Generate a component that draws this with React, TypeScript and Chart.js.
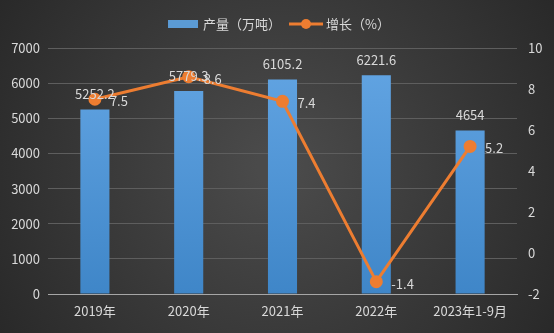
import React, { useEffect, useRef } from "react";
import { Chart, registerables } from "chart.js";

Chart.register(...registerables);

const categories = ["2019年", "2020年", "2021年", "2022年", "2023年1-9月"];
const production = [5252.2, 5779.3, 6105.2, 6221.6, 4654];
const growth = [7.5, 8.6, 7.4, -1.4, 5.2];
const productionLabel = "产量（万吨）";
const growthLabel = "增长（%）";

const FONT = "'Noto Sans CJK SC', 'Noto Sans', sans-serif";
const TEXT = "#d9d9d9";
const BLUE = "#5b9bd5";
const ORANGE = "#ed7d31";

const bgPlugin = {
  id: "bgPlugin",
  beforeDraw(chart: any) {
    const { ctx, width, height } = chart;
    ctx.save();
    const g = ctx.createRadialGradient(width / 2, height / 2, 20, width / 2, height / 2, width * 0.6);
    g.addColorStop(0, "#4a4a4a");
    g.addColorStop(1, "#282828");
    ctx.fillStyle = g;
    ctx.fillRect(0, 0, width, height);
    ctx.restore();
  },
  afterDraw(chart: any) {
    const { ctx } = chart;
    ctx.save();
    ctx.font = `13px ${FONT}`;
    ctx.textBaseline = "middle";
    ctx.fillStyle = TEXT;
    const w1 = ctx.measureText(productionLabel).width;
    const w2 = ctx.measureText(growthLabel).width;
    const total = 30 + 5 + w1 + 8 + 34 + 3 + w2;
    let x = chart.width / 2 - total / 2 + 2;
    const y = 24;
    ctx.fillStyle = BLUE;
    ctx.fillRect(x, y - 4, 30, 8);
    x += 35;
    ctx.fillStyle = TEXT;
    ctx.textAlign = "left";
    ctx.fillText(productionLabel, x, y);
    x += w1 + 8;
    ctx.strokeStyle = ORANGE;
    ctx.lineWidth = 3;
    ctx.beginPath();
    ctx.moveTo(x, y);
    ctx.lineTo(x + 34, y);
    ctx.stroke();
    ctx.fillStyle = ORANGE;
    ctx.beginPath();
    ctx.arc(x + 17, y, 5, 0, Math.PI * 2);
    ctx.fill();
    x += 37;
    ctx.fillStyle = TEXT;
    ctx.fillText(growthLabel, x, y);
    ctx.restore();
  },
};

const labelPlugin = {
  id: "labelPlugin",
  afterDatasetsDraw(chart: any) {
    const { ctx } = chart;
    ctx.save();
    ctx.font = `13px ${FONT}`;
    ctx.fillStyle = TEXT;
    const m0 = chart.getDatasetMeta(0);
    ctx.textAlign = "center";
    ctx.textBaseline = "middle";
    m0.data.forEach((el: any, i: number) => {
      ctx.fillText(String(production[i]), el.x, el.y - 15);
    });
    const m1 = chart.getDatasetMeta(1);
    ctx.textAlign = "left";
    m1.data.forEach((el: any, i: number) => {
      ctx.fillText(String(growth[i]), el.x + 15, el.y + 2);
    });
    ctx.restore();
  },
};

export default function App() {
  const ref = useRef<HTMLCanvasElement>(null);
  useEffect(() => {
    document.body.style.margin = "0";
    const canvas = ref.current!;
    const chart = new Chart(canvas, {
      type: "bar",
      data: {
        labels: categories,
        datasets: [
          {
            type: "bar",
            label: productionLabel,
            data: production,
            yAxisID: "y",
            order: 2,
            barPercentage: 0.62,
            categoryPercentage: 0.5,
            backgroundColor: (c: any) => {
              const area = c.chart.chartArea;
              if (!area) return BLUE;
              const g = c.chart.ctx.createLinearGradient(0, area.top, 0, area.bottom);
              g.addColorStop(0, "#64a6e4");
              g.addColorStop(1, "#3f86c8");
              return g;
            },
          },
          {
            type: "line",
            label: growthLabel,
            data: growth,
            yAxisID: "y1",
            order: 1,
            borderColor: ORANGE,
            backgroundColor: ORANGE,
            borderWidth: 3,
            pointRadius: 5,
            pointBackgroundColor: ORANGE,
            pointBorderColor: ORANGE,
            tension: 0,
          },
        ],
      } as any,
      options: {
        animation: false,
        responsive: true,
        maintainAspectRatio: false,
        layout: { padding: { top: 48, left: 0, right: 0, bottom: 0 } },
        plugins: { legend: { display: false }, tooltip: { enabled: false } },
        scales: {
          x: {
            grid: { display: false, drawTicks: false },
            border: { display: true, color: "#a6a6a6", width: 1 },
            ticks: { color: TEXT, font: { family: FONT, size: 13 }, padding: 9, maxRotation: 0 },
            afterFit: (s: any) => {
              s.height = 39;
            },
          },
          y: {
            position: "left",
            min: 0,
            max: 7000,
            ticks: {
              stepSize: 1000,
              color: TEXT,
              font: { family: FONT, size: 13 },
              padding: 8,
              callback: (v: any) => String(v),
            },
            grid: { color: "#5e5e5e", lineWidth: 1, drawTicks: false },
            border: { display: false },
            afterFit: (s: any) => {
              s.width = 48;
            },
          },
          y1: {
            position: "right",
            min: -2,
            max: 10,
            ticks: {
              stepSize: 2,
              color: TEXT,
              font: { family: FONT, size: 13 },
              padding: 11,
              callback: (v: any) => String(v),
            },
            grid: { display: false, drawTicks: false },
            border: { display: false },
            afterFit: (s: any) => {
              s.width = 37;
            },
          },
        },
      } as any,
      plugins: [bgPlugin, labelPlugin],
    });
    return () => chart.destroy();
  }, []);
  return (
    <div style={{ width: 554, height: 333, position: "relative" }}>
      <canvas ref={ref} />
    </div>
  );
}
